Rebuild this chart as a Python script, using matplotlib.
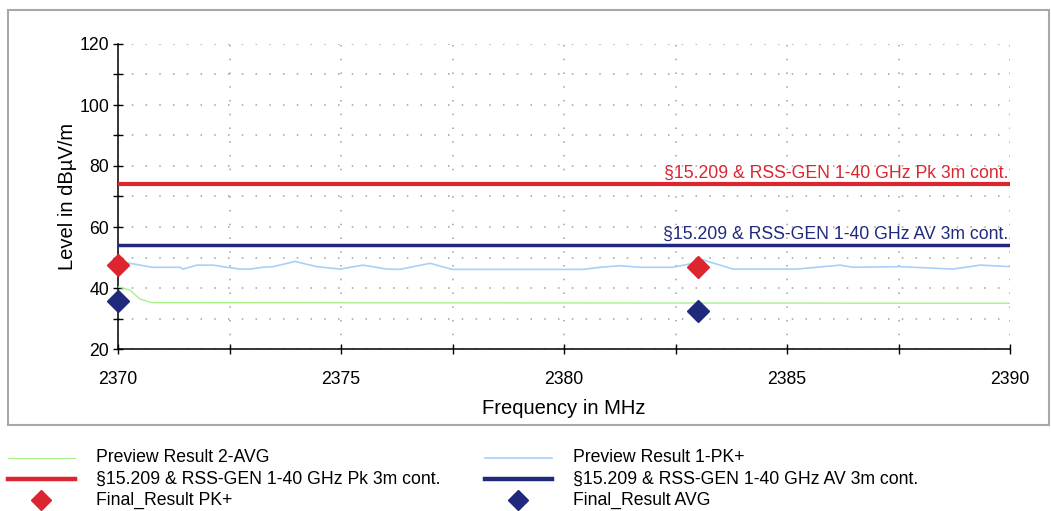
import matplotlib.pyplot as plt
from matplotlib.lines import Line2D
from matplotlib.patches import Rectangle
from matplotlib.ticker import MultipleLocator

plt.rcParams['font.family'] = ['Liberation Sans', 'DejaVu Sans']

# preview peak trace (MHz, dBuV/m)
pk_freq = [2370.0, 2370.27, 2370.76, 2371.39, 2371.46, 2371.77, 2372.13, 2372.44,
           2372.74, 2372.96, 2373.25, 2373.48, 2373.97, 2374.46, 2374.98, 2375.49,
           2376.03, 2376.32, 2377.0, 2377.49, 2380.43, 2380.81, 2381.26, 2381.70,
           2382.44, 2382.83, 2383.12, 2383.79, 2385.22, 2386.19, 2386.48, 2387.53,
           2388.72, 2389.33, 2390.0]
pk_level = [48.3, 48.1, 46.8, 46.8, 46.2, 47.5, 47.5, 46.8,
            46.2, 46.2, 46.8, 47.0, 48.7, 47.0, 46.2, 47.5,
            46.2, 46.1, 48.1, 46.1, 46.1, 46.8, 47.3, 46.8,
            46.8, 47.9, 49.2, 46.2, 46.2, 47.5, 46.8, 47.0,
            46.2, 47.5, 47.0]

# preview average trace
avg_freq = [2370.0, 2370.27, 2370.49, 2370.76, 2390.0]
avg_level = [40.4, 39.3, 36.4, 35.2, 35.0]

# limits
limit_pk = 74
limit_av = 54
limit_pk_label = "§15.209 & RSS-GEN 1-40 GHz Pk 3m cont."
limit_av_label = "§15.209 & RSS-GEN 1-40 GHz AV 3m cont."

# final results
final_freq = [2370.0, 2383.0]
final_pk = [47.5, 46.8]
final_avg = [35.7, 32.5]

red = '#DD2530'
navy = '#1F2A7D'
lightblue = '#A8D0F8'
green = '#A8F08A'

fig = plt.figure(figsize=(10.51, 5.11), dpi=100)
fig.patches.append(Rectangle((8 / 1051, 86 / 511), 1041 / 1051, 415 / 511,
                             transform=fig.transFigure, fill=False,
                             edgecolor='#A8A8A8', linewidth=1.5))

ax = fig.add_axes([118 / 1051, 162 / 511, 892 / 1051, 305 / 511])

ax.plot(avg_freq, avg_level, color=green, lw=1.0, zorder=3)
ax.plot(pk_freq, pk_level, color=lightblue, lw=1.2, zorder=3)
ax.axhline(limit_pk, color=red, lw=3.0, zorder=4)
ax.axhline(limit_av, color=navy, lw=2.5, zorder=4)
ax.plot(final_freq, final_pk, 'D', color=red, ms=11, zorder=5, clip_on=False)
ax.plot(final_freq, final_avg, 'D', color=navy, ms=11, zorder=5, clip_on=False)

ax.annotate(limit_pk_label, (2390, limit_pk), xytext=(-1, 2), textcoords='offset points',
            ha='right', va='bottom', color=red, fontsize=12.7)
ax.annotate(limit_av_label, (2390, limit_av), xytext=(-1, 2), textcoords='offset points',
            ha='right', va='bottom', color=navy, fontsize=12.7)

ax.set_xlim(2370, 2390)
ax.set_ylim(20, 120)
ax.xaxis.set_major_locator(MultipleLocator(5))
ax.xaxis.set_minor_locator(MultipleLocator(2.5))
ax.yaxis.set_major_locator(MultipleLocator(20))
ax.yaxis.set_minor_locator(MultipleLocator(10))
ax.tick_params(which='both', direction='inout', length=7.5, width=1.0, labelsize=12.7)
ax.tick_params(axis='x', which='both', pad=12)
ax.tick_params(axis='y', which='both', pad=2.5)

for s in ['top', 'right']:
    ax.spines[s].set_visible(False)
for s in ['left', 'bottom']:
    ax.spines[s].set_linewidth(1.1)

ax.grid(which='both', color='#A0A0A0', lw=1.1, linestyle=(0, (1, 8)))
ax.set_axisbelow(True)

ax.set_xlabel("Frequency in MHz", fontsize=14.5)
ax.set_ylabel("Level in dBµV/m", fontsize=14.5)
ax.xaxis.set_label_coords(0.5, -0.165)
ax.yaxis.set_label_coords(-0.046, 0.5)

# legend drawn in figure pixels
legend_items = [
    (8, 458, dict(color=green, lw=0.8), "Preview Result 2-AVG"),
    (8, 479, dict(color=red, lw=3.2), limit_pk_label),
    (8, 500, dict(color=red, marker='D', ms=10, ls='none'), "Final_Result PK+"),
    (485, 458, dict(color=lightblue, lw=1.2), "Preview Result 1-PK+"),
    (485, 479, dict(color=navy, lw=3.2), limit_av_label),
    (485, 500, dict(color=navy, marker='D', ms=10, ls='none'), "Final_Result AVG"),
]
W, H = 1051, 511
for x0, y0, style, label in legend_items:
    yy = 1 - y0 / H
    if 'marker' in style:
        fig.add_artist(Line2D([(x0 + 33) / W], [yy], transform=fig.transFigure, **style))
    else:
        fig.add_artist(Line2D([x0 / W, (x0 + 67) / W], [yy, yy], transform=fig.transFigure, **style))
    fig.text((x0 + 88) / W, yy, label, ha='left', va='center', fontsize=12.7)

fig.savefig('out.png', dpi=100)
